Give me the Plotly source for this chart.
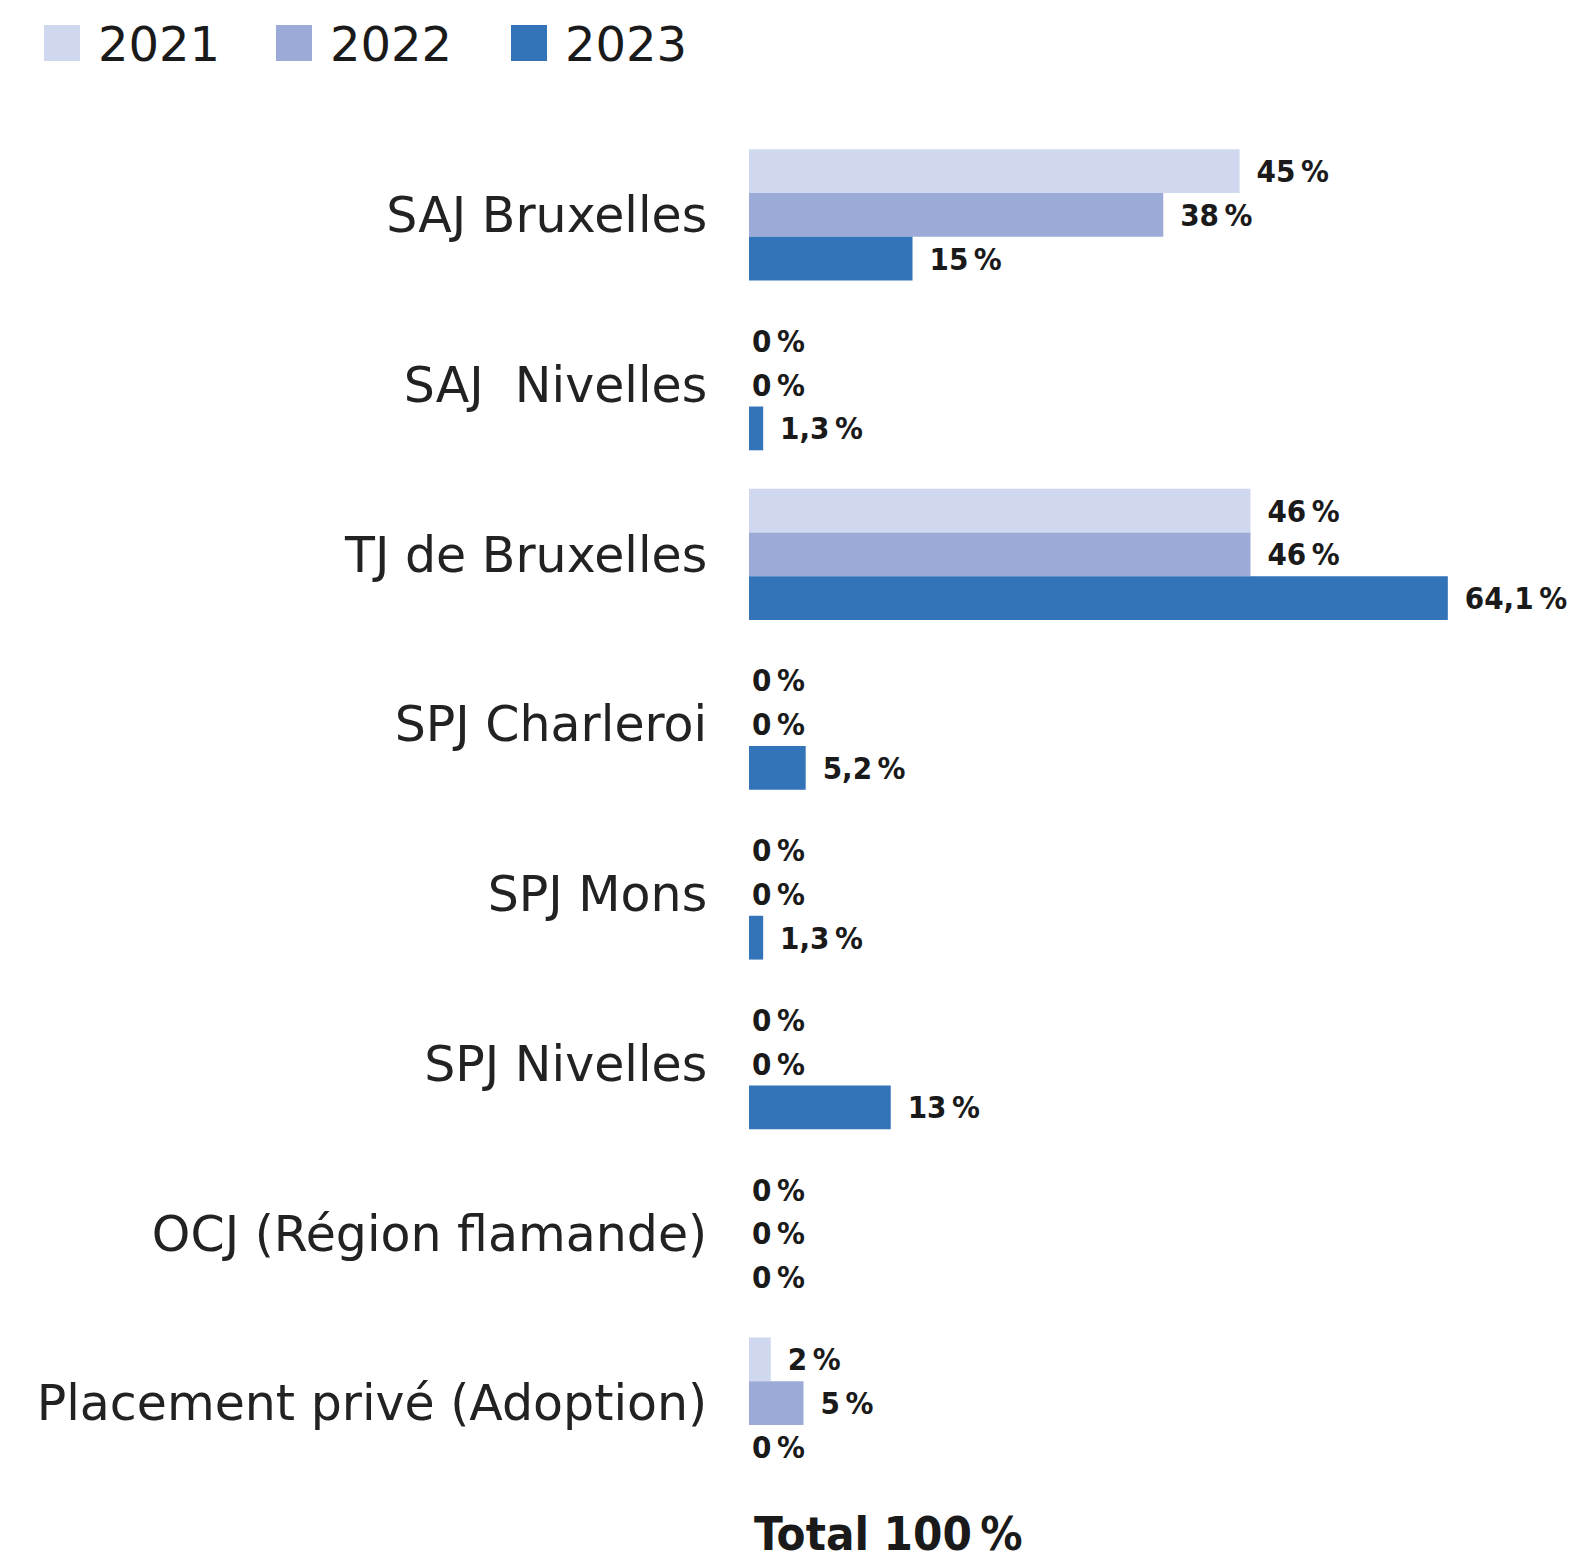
import plotly.graph_objects as go

categories = ["SAJ Bruxelles", "SAJ\u00a0 Nivelles", "TJ de Bruxelles", "SPJ Charleroi",
              "SPJ Mons", "SPJ Nivelles", "OCJ (Région flamande)", "Placement privé (Adoption)"]
years = ["2021", "2022", "2023"]
v2021 = [45, 0, 46, 0, 0, 0, 0, 2]
v2022 = [38, 0, 46, 0, 0, 0, 0, 5]
v2023 = [15, 1.3, 64.1, 5.2, 1.3, 13, 0, 0]
colors = ["#CFD8EE", "#9BAAD6", "#3373B8"]
total_label = "Total 100\u202f%"

W, H = 1583, 1564
ML, MR, MT, MB = 749, 0, 130, 76
PW, PH = W - ML - MR, H - MT - MB


def fmt(v):
    s = f"{v:g}".replace(".", ",") + "\u202f%"
    return ("\u2002" + s) if v else s


def px_x(px):
    return (px - ML) / PW


def px_y(py):
    return 1 - (py - MT) / PH


fig = go.Figure()
for name, vals, col in zip(years, [v2021, v2022, v2023], colors):
    fig.add_trace(go.Bar(
        y=categories, x=vals, name=name, orientation="h",
        marker=dict(color=col, line=dict(width=0)),
        text=[fmt(v) for v in vals], textposition="outside",
        textfont=dict(family="DejaVu Sans Condensed", size=31, color="#1a1a1a", weight="bold"),
        cliponaxis=False, showlegend=False,
    ))

shapes = []
annotations = []
sq_x = [44, 276, 511]
for name, col, x0 in zip(years, colors, sq_x):
    shapes.append(dict(type="rect", xref="paper", yref="paper",
                       x0=px_x(x0), x1=px_x(x0 + 36), y0=px_y(61), y1=px_y(25),
                       fillcolor=col, line=dict(width=0)))
    annotations.append(dict(text=name, xref="paper", yref="paper", x=px_x(x0 + 52), y=px_y(44),
                            xanchor="left", yanchor="middle", showarrow=False,
                            font=dict(family="DejaVu Sans", size=48, color="#1a1a1a")))
annotations.append(dict(text=total_label, xref="paper", yref="paper", x=px_x(752), y=px_y(1533),
                        xanchor="left", yanchor="middle", showarrow=False,
                        font=dict(family="DejaVu Sans Condensed", size=47, color="#1a1a1a", weight="bold")))

fig.update_layout(
    width=W, height=H, margin=dict(l=ML, r=MR, t=MT, b=MB, autoexpand=False),
    barmode="group", bargap=0.226, bargroupgap=0,
    plot_bgcolor="white", paper_bgcolor="white",
    xaxis=dict(visible=False, range=[0, 76.5], fixedrange=True),
    yaxis=dict(autorange="reversed", showgrid=False, showline=False, zeroline=False,
               ticks="outside", ticklen=31, tickcolor="rgba(0,0,0,0)",
               tickfont=dict(family="DejaVu Sans", size=49, color="#222222")),
    shapes=shapes, annotations=annotations,
    uniformtext=dict(mode=False),
)
fig.write_html("out.html")
